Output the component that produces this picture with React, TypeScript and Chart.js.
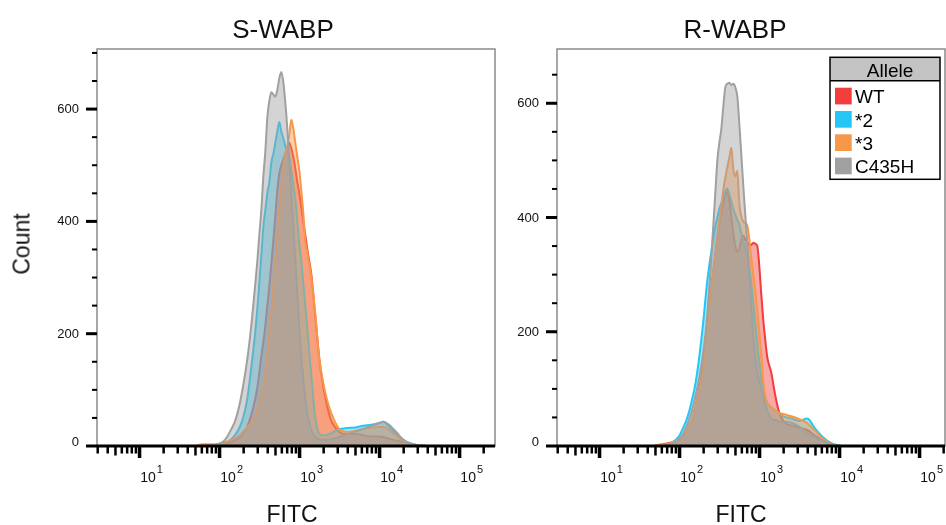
import React, { useEffect, useRef } from 'react';
import { Chart, registerables } from 'chart.js';

Chart.register(...registerables);

// FITC bin centres (shared by every histogram)
const fitc = [50, 63, 79, 100, 112, 126, 141, 158, 178, 200,
  224, 251, 282, 299, 316, 335, 355, 376, 398, 422,
  447, 473, 501, 531, 562, 596, 631, 668, 708, 750,
  794, 841, 891, 944, 1000, 1059, 1122, 1189, 1259, 1413,
  1585, 1778, 1995, 2239, 2512, 3162, 3981, 5012, 6310, 7943,
  10000, 11220, 12589, 15849, 19953, 25119, 31623, 39811];

const alleles = ['WT', '*2', '*3', 'C435H'];
const alleleColors = ['#f23d3d', '#25c6f3', '#f7974a', '#a0a0a0'];

// S-WABP counts
const sWT = [0, 0, 1, 2, 3, 5, 7, 10, 15, 23,
  35, 55, 85, 105, 130, 160, 185, 215, 250, 285,
  325, 365, 410, 455, 485, 500, 510, 520, 530, 540,
  530, 515, 495, 470, 450, 425, 400, 375, 350, 305,
  230, 155, 105, 70, 45, 25, 21, 22, 19, 17,
  17, 16, 14, 10, 7, 4, 1, 0];
const sStar2 = [0, 0, 0, 2, 4, 7, 12, 20, 32, 52,
  85, 140, 205, 245, 290, 340, 390, 420, 450, 470,
  505, 520, 540, 560, 577, 560, 548, 535, 525, 515,
  490, 465, 440, 400, 360, 330, 290, 250, 210, 125,
  50, 22, 19, 20, 23, 30, 32, 33, 36, 38,
  41, 43, 38, 24, 11, 4, 1, 0];
const sStar3 = [0, 3, 3, 4, 6, 8, 11, 14, 18, 26,
  34, 42, 55, 65, 78, 92, 108, 130, 160, 200,
  240, 285, 330, 378, 425, 465, 500, 520, 532, 555,
  581, 565, 540, 515, 490, 455, 415, 365, 345, 300,
  235, 155, 112, 80, 58, 30, 25, 27, 30, 33,
  34, 34, 31, 20, 9, 3, 1, 0];
const sC435H = [0, 0, 1, 4, 8, 17, 30, 45, 72, 110,
  155, 215, 290, 330, 375, 420, 480, 525, 585, 615,
  630, 626, 622, 634, 655, 666, 648, 612, 565, 505,
  450, 390, 330, 270, 210, 160, 118, 85, 58, 28,
  16, 12, 11, 11, 12, 16, 21, 26, 31, 36,
  41, 43, 40, 27, 11, 3, 1, 0];

// R-WABP counts
const rWT = [1, 3, 6, 12, 18, 28, 42, 65, 100, 145,
  205, 275, 335, 365, 390, 410, 425, 440, 445, 430,
  400, 372, 350, 340, 345, 362, 368, 362, 356, 352,
  352, 356, 354, 350, 315, 265, 220, 185, 155, 128,
  88, 58, 44, 38, 36, 32, 28, 18, 9, 3,
  0, 0, 0, 0, 0, 0, 0, 0];
const rStar2 = [0, 1, 5, 18, 32, 50, 75, 107, 157, 220,
  290, 340, 385, 400, 415, 425, 435, 446, 451, 440,
  428, 415, 405, 396, 388, 372, 358, 345, 335, 312,
  282, 250, 215, 180, 145, 118, 98, 84, 75, 68,
  62, 57, 52, 50, 48, 44, 48, 30, 15, 5,
  1, 0, 0, 0, 0, 0, 0, 0];
const rStar3 = [1, 2, 5, 12, 18, 28, 42, 65, 97, 140,
  200, 273, 335, 365, 395, 420, 448, 470, 488, 505,
  522, 485, 472, 482, 425, 402, 393, 390, 386, 362,
  330, 300, 272, 238, 200, 160, 112, 88, 76, 68,
  62, 58, 56, 54, 52, 47, 40, 26, 12, 4,
  0, 0, 0, 0, 0, 0, 0, 0];
const rC435H = [0, 0, 3, 12, 22, 38, 58, 85, 120, 165,
  230, 330, 443, 500, 530, 555, 595, 628, 634, 636,
  632, 634, 628, 612, 565, 510, 455, 405, 355, 300,
  245, 192, 155, 128, 112, 100, 86, 72, 60, 48,
  45, 43, 42, 42, 41, 34, 23, 15, 9, 3,
  0, 0, 0, 0, 0, 0, 0, 0];

// axis ticks
const countTicks = [0, 200, 400, 600];
const countMinorStep = 50;
const fitcDecades = [1, 2, 3, 4, 5];
const fitcMultiples = [1, 2, 3, 4, 5, 6, 7, 8, 9];

const FONT = '"Liberation Sans", Arial, Helvetica, sans-serif';

function rgba(hex: string, a: number) {
  const n = parseInt(hex.slice(1), 16);
  return `rgba(${(n >> 16) & 255},${(n >> 8) & 255},${n & 255},${a})`;
}

const axesPlugin = {
  id: 'flowAxes',
  afterDraw(chart: any) {
    const { ctx, chartArea: a } = chart;
    const xs = chart.scales.x;
    const ys = chart.scales.y;
    ctx.save();
    ctx.strokeStyle = '#8a8a8a';
    ctx.lineWidth = 1.5;
    ctx.strokeRect(a.left, a.top, a.right - a.left, a.bottom - a.top);
    ctx.fillStyle = '#000';
    for (let v = 0; v <= ys.max; v += countMinorStep) {
      const py = ys.getPixelForValue(v);
      if (countTicks.includes(v)) ctx.fillRect(a.left - 11, py - 1.5, 11, 3);
      else ctx.fillRect(a.left - 5, py - 1, 5, 2);
    }
    ctx.fillRect(a.left, a.bottom - 1.5, a.right - a.left, 3);
    [0, ...fitcDecades].forEach((d) => {
      fitcMultiples.forEach((m) => {
        const v = m * Math.pow(10, d);
        if (v < xs.min * 0.995 || v > xs.max) return;
        const px = xs.getPixelForValue(v);
        if (m === 1) ctx.fillRect(px - 1.5, a.bottom + 1, 3.5, 11);
        else if (m === 5) ctx.fillRect(px - 1, a.bottom + 1, 2.5, 8.5);
        else ctx.fillRect(px - 1, a.bottom + 1, 2.5, 6.5);
      });
    });
    ctx.fillStyle = '#111';
    ctx.font = `13px ${FONT}`;
    ctx.textAlign = 'right';
    ctx.textBaseline = 'middle';
    countTicks.forEach((v) => {
      const py = ys.getPixelForValue(v);
      ctx.fillText(String(v), a.left - 18, v === 0 ? py - 4 : py + 0.5);
    });
    ctx.textAlign = 'left';
    ctx.textBaseline = 'alphabetic';
    fitcDecades.forEach((d) => {
      const px = xs.getPixelForValue(Math.pow(10, d));
      if (px > a.right + 1) return;
      ctx.font = `14px ${FONT}`;
      ctx.fillText('10', px + 1, a.bottom + 36);
      const w = ctx.measureText('10').width;
      ctx.font = `11px ${FONT}`;
      ctx.fillText(String(d), px + 2 + w, a.bottom + 26.5);
    });
    ctx.restore();
  },
};

const legendPlugin = {
  id: 'alleleLegend',
  afterDraw(chart: any) {
    const { ctx, chartArea: a } = chart;
    const bw = 110, bh = 122, hh = 23.4;
    const bx = a.right - 115, by = a.top + 8.3;
    ctx.save();
    ctx.fillStyle = '#fff';
    ctx.fillRect(bx, by, bw, bh);
    ctx.fillStyle = '#c3c3c3';
    ctx.fillRect(bx, by, bw, hh);
    ctx.strokeStyle = '#000';
    ctx.lineWidth = 1.5;
    ctx.strokeRect(bx, by, bw, bh);
    ctx.beginPath();
    ctx.moveTo(bx, by + hh);
    ctx.lineTo(bx + bw, by + hh);
    ctx.stroke();
    ctx.fillStyle = '#000';
    ctx.font = `19px ${FONT}`;
    ctx.textAlign = 'center';
    ctx.textBaseline = 'alphabetic';
    ctx.fillText('Allele', bx + bw / 2 + 5, by + 20);
    ctx.textAlign = 'left';
    chart.data.datasets.forEach((ds: any, i: number) => {
      const sy = by + 30.4 + i * 23.3;
      ctx.fillStyle = alleleColors[i];
      ctx.fillRect(bx + 5, sy, 16.7, 16.7);
      ctx.fillStyle = '#000';
      ctx.fillText(ds.label, bx + 25, sy + 15.7);
    });
    ctx.restore();
  },
};

type PanelProps = {
  left: number;
  width: number;
  pad: { left: number; top: number; right: number; bottom: number };
  xMin: number;
  xMax: number;
  yMax: number;
  series: number[][];
  showLegend: boolean;
};

function Panel({ left, width, pad, xMin, xMax, yMax, series, showLegend }: PanelProps) {
  const ref = useRef<HTMLCanvasElement>(null);
  useEffect(() => {
    const chart = new Chart(ref.current as HTMLCanvasElement, {
      type: 'line',
      data: {
        datasets: series.map((vals, i) => ({
          label: alleles[i],
          data: fitc.map((x, j) => ({ x, y: vals[j] })),
          borderColor: alleleColors[i],
          backgroundColor: rgba(alleleColors[i], 0.45),
          borderWidth: 2,
          fill: 'origin',
          pointRadius: 0,
          cubicInterpolationMode: 'monotone',
          order: series.length - i,
        })),
      },
      options: {
        animation: false,
        responsive: false,
        maintainAspectRatio: false,
        layout: { padding: pad },
        plugins: {
          legend: { display: false },
          tooltip: { enabled: false },
          title: { display: false },
        },
        events: [],
        scales: {
          x: { type: 'logarithmic', min: xMin, max: xMax, display: false },
          y: { type: 'linear', min: 0, max: yMax, display: false },
        },
      },
      plugins: showLegend ? [axesPlugin, legendPlugin] : [axesPlugin],
    } as any);
    return () => chart.destroy();
  }, []);
  return (
    <canvas
      ref={ref}
      width={width}
      height={525}
      style={{ position: 'absolute', left, top: 0, width, height: 525, display: 'block' }}
    />
  );
}

const textBase: React.CSSProperties = {
  position: 'absolute',
  fontFamily: FONT,
  color: '#111',
  whiteSpace: 'nowrap',
};

export default function App() {
  return (
    <div style={{ position: 'fixed', left: 0, top: 0, width: 946, height: 525, background: '#fff', overflow: 'hidden' }}>
      <Panel
        left={0}
        width={500}
        pad={{ left: 97, top: 49, right: 5, bottom: 79 }}
        xMin={2.96}
        xMax={279000}
        yMax={707}
        series={[sWT, sStar2, sStar3, sC435H]}
        showLegend={false}
      />
      <Panel
        left={500}
        width={446}
        pad={{ left: 57, top: 49, right: 1, bottom: 79 }}
        xMin={2.96}
        xMax={209400}
        yMax={695}
        series={[rWT, rStar2, rStar3, rC435H]}
        showLegend={true}
      />
      <div style={{ ...textBase, left: 283, top: 15.5, transform: 'translateX(-50%)', fontSize: 26, lineHeight: '26px' }}>S-WABP</div>
      <div style={{ ...textBase, left: 735, top: 15.5, transform: 'translateX(-50%)', fontSize: 26, lineHeight: '26px' }}>R-WABP</div>
      <div style={{ ...textBase, left: 292, top: 502.5, transform: 'translateX(-50%)', fontSize: 23, lineHeight: '23px' }}>FITC</div>
      <div style={{ ...textBase, left: 741, top: 502.5, transform: 'translateX(-50%)', fontSize: 23, lineHeight: '23px' }}>FITC</div>
      <div style={{ ...textBase, left: 21.7, top: 244, transform: 'translate(-50%, -50%) rotate(-90deg)', fontSize: 23, lineHeight: '23px' }}>Count</div>
    </div>
  );
}
